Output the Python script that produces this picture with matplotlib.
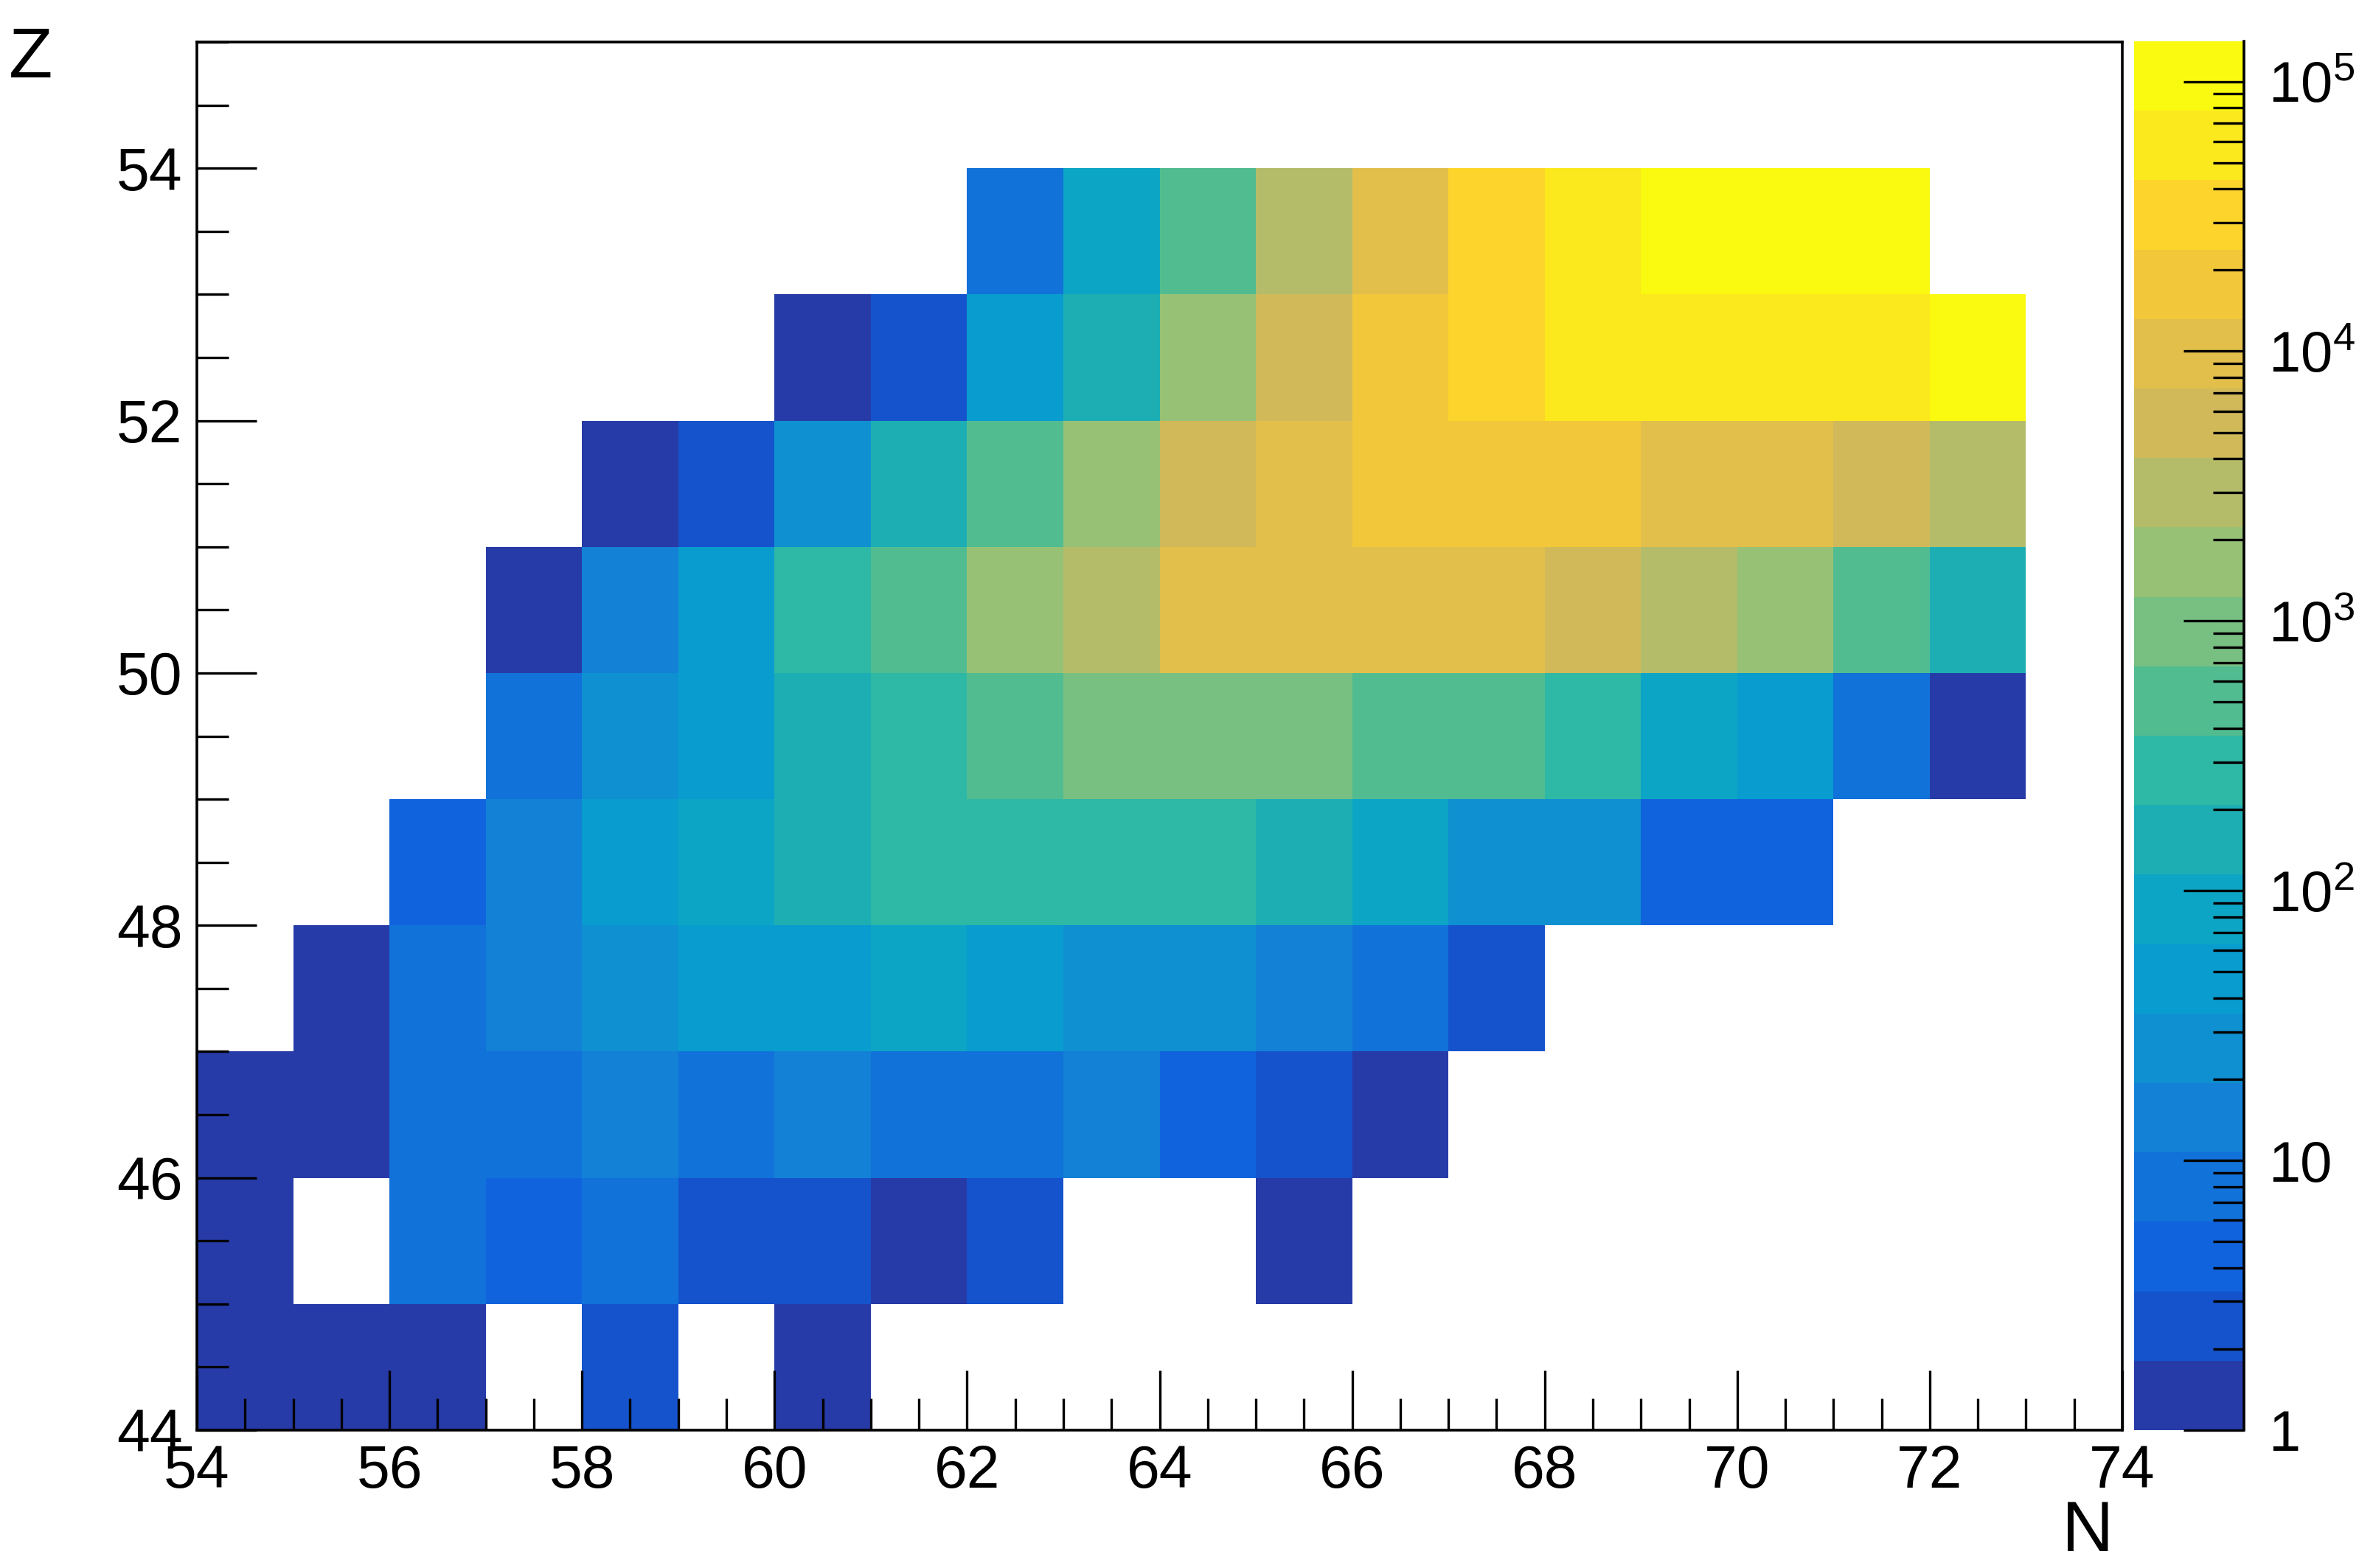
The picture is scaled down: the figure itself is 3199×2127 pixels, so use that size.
import numpy as np
import matplotlib
matplotlib.use('Agg')
import matplotlib.pyplot as plt
from matplotlib.colors import ListedColormap, LogNorm
from matplotlib.ticker import MultipleLocator, LogLocator, NullFormatter

plt.rcParams['font.family'] = ['Liberation Sans', 'DejaVu Sans']
plt.rcParams['mathtext.fontset'] = 'custom'
plt.rcParams['mathtext.rm'] = 'Liberation Sans'
plt.rcParams['mathtext.default'] = 'regular'

# bin edges
n_edges = np.arange(54, 75)   # N = 54 ... 74
z_edges = np.arange(44, 56)   # Z = 44 ... 55

# counts per (Z, N) bin, rows Z = 44 ... 54, columns N = 54 ... 73 (0 = empty)
counts = [
    [1, 1, 1, 0, 2, 0, 1, 0, 0, 0, 0, 0, 0, 0, 0, 0, 0, 0, 0, 0],                                  # Z=44
    [1, 0, 8, 5, 7, 2, 3, 1, 2, 0, 0, 1, 0, 0, 0, 0, 0, 0, 0, 0],                                  # Z=45
    [1, 1, 9, 8, 13, 7, 12, 10, 8, 15, 5, 3, 1, 0, 0, 0, 0, 0, 0, 0],                              # Z=46
    [0, 1, 9, 16, 27, 52, 58, 70, 45, 30, 23, 12, 7, 2, 0, 0, 0, 0, 0, 0],                         # Z=47
    [0, 0, 4, 16, 46, 80, 190, 300, 340, 320, 260, 180, 75, 28, 25, 5, 4, 0, 0, 0],                # Z=48
    [0, 0, 0, 7, 22, 50, 170, 250, 600, 880, 1000, 950, 540, 470, 300, 95, 40, 9, 1, 0],           # Z=49
    [0, 0, 0, 1, 13, 42, 270, 530, 1800, 3200, 8800, 10200, 11500, 9500, 6200, 3300,
     1500, 560, 140, 0],                                                                           # Z=50
    [0, 0, 0, 0, 1, 2, 24, 150, 480, 1600, 5200, 10500, 16500, 19000, 17000, 11000,
     9000, 5000, 2900, 0],                                                                         # Z=51
    [0, 0, 0, 0, 0, 0, 1, 3, 45, 160, 1700, 5600, 18000, 34000, 56000, 62000,
     64000, 58000, 95000, 0],                                                                      # Z=52
    [0, 0, 0, 0, 0, 0, 0, 0, 8, 90, 520, 3100, 9500, 31000, 60000, 120000,
     141000, 118000, 0, 0],                                                                        # Z=53
    [0] * 20,                                                                                      # Z=54
]

cbar_ticks = [1, 10, 1e2, 1e3, 1e4, 1e5]
cbar_labels = ['1', '10', '$10^{2}$', '$10^{3}$', '$10^{4}$', '$10^{5}$']

# ROOT "bird" palette, 20 contour levels (bottom -> top)
level_colors = ['#273ba8', '#1553cc', '#1063dd', '#1172d9', '#1381d6',
                '#0e90d1', '#099ccf', '#0ca5c5', '#1daeb4', '#2eb8a6',
                '#52bc91', '#78bf82', '#97c175', '#b4bc69', '#d1b95a',
                '#e2bf4b', '#f3c73a', '#fdd42b', '#fbe81d', '#f9fa0f']
cmap = ListedColormap(level_colors)

data = np.ma.masked_equal(np.array(counts, dtype=float), 0)
norm = LogNorm(vmin=1, vmax=data.max())

fig = plt.figure(figsize=(31.99, 21.27), dpi=100)
ax = fig.add_axes([267 / 3199, 1 - 1940 / 2127, (2878 - 267) / 3199, (1940 - 57) / 2127])

mesh = ax.pcolormesh(n_edges, z_edges, data, cmap=cmap, norm=norm,
                     edgecolors='none', antialiased=False)

ax.set_xlim(54, 74)
ax.set_ylim(44, 55)
ax.xaxis.set_major_locator(MultipleLocator(2))
ax.xaxis.set_minor_locator(MultipleLocator(0.5))
ax.yaxis.set_major_locator(MultipleLocator(2))
ax.yaxis.set_minor_locator(MultipleLocator(0.5))
ax.tick_params(which='both', direction='in', top=False, right=False,
               width=2.4, labelsize=58, color='black')
ax.tick_params(which='major', length=58)
ax.tick_params(which='minor', length=31)
ax.tick_params(axis='x', pad=14)
ax.tick_params(axis='y', pad=14)
for sp in ax.spines.values():
    sp.set_linewidth(2.6)

# axis titles, placed like ROOT
fig.text(12 / 3199, 1 - 105 / 2127, 'Z', fontsize=70, ha='left', va='baseline')
fig.text(2866 / 3199, 1 - 2104 / 2127, 'N', fontsize=70, ha='right', va='baseline')

# colour scale
cax = fig.add_axes([2894 / 3199, 1 - 1940 / 2127, (3043 - 2894) / 3199, (1940 - 56) / 2127])
cb = fig.colorbar(mesh, cax=cax)
cb.outline.set_visible(False)
cax.spines['right'].set_visible(True)
cax.spines['right'].set_linewidth(2.6)
cb.set_ticks(cbar_ticks, labels=cbar_labels)
cax.yaxis.set_minor_locator(LogLocator(base=10, subs=range(2, 10)))
cax.yaxis.set_minor_formatter(NullFormatter())
cax.tick_params(which='both', direction='in', right=True, left=False,
                labelright=True, labelleft=False, width=2.4, labelsize=56, pad=24)
cax.tick_params(which='major', length=59)
cax.tick_params(which='minor', length=30)

fig.savefig('out.png', dpi=100)
